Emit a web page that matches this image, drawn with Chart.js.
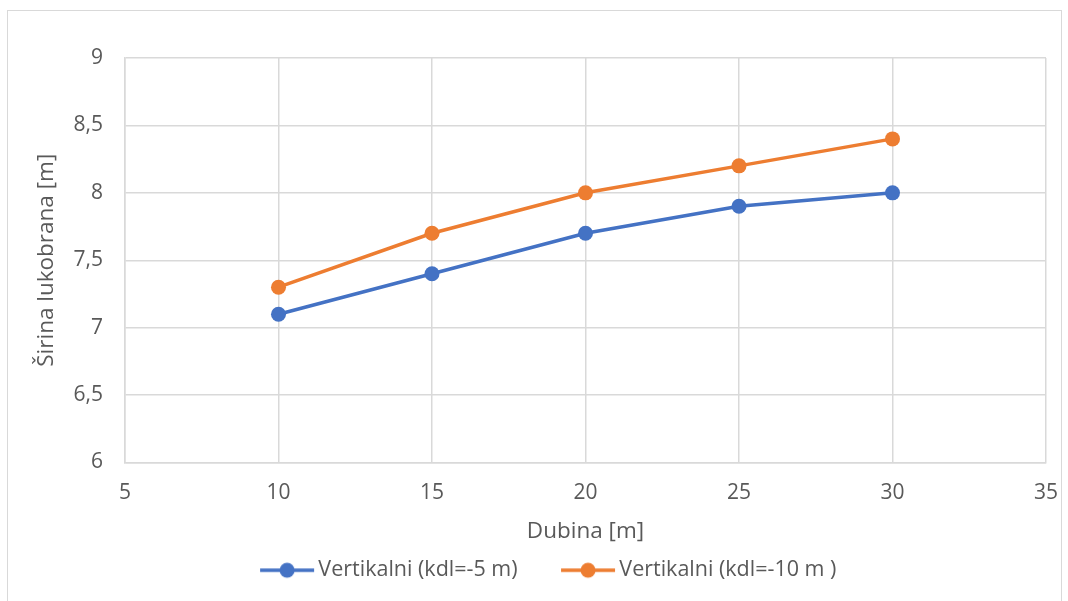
<!DOCTYPE html>
<html>
<head>
<meta charset="utf-8">
<script src="https://cdn.jsdelivr.net/npm/chart.js@4/dist/chart.umd.min.js"></script>
<style>
  html, body { margin: 0; padding: 0; background: #ffffff; }
  #wrap { position: relative; width: 1068px; height: 601px; overflow: hidden; }
  #frame { position: absolute; left: 7px; top: 10px; width: 1055px; height: 600px;
           border: 1px solid #d9d9d9; box-sizing: border-box; }
  canvas { position: absolute; left: 0; top: 0; }
</style>
</head>
<body>
<div id="wrap">
  <div id="frame"></div>
  <canvas id="c" width="1068" height="601"></canvas>
</div>
<script>
// Depth (m) on the x axis
const dubina = [10, 15, 20, 25, 30];
// Breakwater width (m) for the two vertical cases
const sirinaKdl5 = [7.1, 7.4, 7.7, 7.9, 8.0];
const sirinaKdl10 = [7.3, 7.7, 8.0, 8.2, 8.4];
const seriesNames = ['Vertikalni (kdl=-5 m)', 'Vertikalni (kdl=-10 m )'];
const seriesColors = ['#4472c4', '#ed7d31'];

const FONT = '"Open Sans", sans-serif';
const TEXT = '#595959';
const GRID = '#d9d9d9';

// Legend symbol: short line with a dot in the middle, sitting close to the label
function legendSymbol(color) {
  const cv = document.createElement('canvas');
  cv.width = 96; cv.height = 18;
  const g = cv.getContext('2d');
  g.strokeStyle = color; g.lineWidth = 3.5; g.lineCap = 'butt';
  g.beginPath(); g.moveTo(41, 9); g.lineTo(95, 9); g.stroke();
  g.fillStyle = color;
  g.beginPath(); g.arc(68, 9, 7.5, 0, Math.PI * 2); g.fill();
  return cv;
}

const toPts = ys => dubina.map((x, i) => ({ x: x, y: ys[i] }));
const fmt = v => String(v).replace('.', ',');

new Chart(document.getElementById('c'), {
  type: 'line',
  data: {
    datasets: [sirinaKdl5, sirinaKdl10].map((ys, i) => ({
      label: seriesNames[i],
      data: toPts(ys),
      borderColor: seriesColors[i],
      backgroundColor: seriesColors[i],
      borderWidth: 3.5,
      pointRadius: 7.5,
      pointHoverRadius: 7.5,
      pointBorderWidth: 0,
      tension: 0,
      fill: false
    }))
  },
  options: {
    responsive: false,
    animation: false,
    layout: { padding: { left: 17, top: 58, right: 22, bottom: 10 } },
    plugins: {
      tooltip: { enabled: false },
      legend: {
        position: 'bottom',
        labels: {
          usePointStyle: true,
          pointStyleWidth: 81,
          boxHeight: 18,
          padding: 10,
          color: TEXT,
          font: { family: FONT, size: 21.5 },
          generateLabels: chart => chart.data.datasets.map((d, i) => ({
            text: d.label,
            pointStyle: legendSymbol(seriesColors[i]),
            fillStyle: seriesColors[i],
            strokeStyle: seriesColors[i],
            lineWidth: 0,
            fontColor: TEXT,
            datasetIndex: i
          }))
        }
      }
    },
    scales: {
      x: {
        type: 'linear',
        min: 5, max: 35,
        ticks: { stepSize: 5, color: TEXT, font: { family: FONT, size: 21 }, padding: 18, callback: fmt },
        grid: { color: GRID, lineWidth: 1.5, drawTicks: false },
        border: { color: GRID, width: 1.5 },
        title: { display: true, text: 'Dubina [m]', color: TEXT, font: { family: FONT, size: 22.5 }, padding: { top: 0, bottom: 4.5 } },
        // fixed band height; end labels may overhang the plot edges
        afterFit: s => { s.height = 87; s.paddingLeft = 0; s.paddingRight = 0; }
      },
      y: {
        type: 'linear',
        min: 6, max: 9,
        ticks: { stepSize: 0.5, color: TEXT, font: { family: FONT, size: 21 }, padding: 22, callback: fmt },
        grid: { color: GRID, lineWidth: 1.5, drawTicks: false },
        border: { color: GRID, width: 1.5 },
        title: { display: true, text: 'Širina lukobrana [m]', color: TEXT, font: { family: FONT, size: 22.5 }, padding: { top: 16.5, bottom: 0 } },
        afterFit: s => { s.width = 108; }
      }
    }
  }
});
</script>
</body>
</html>
